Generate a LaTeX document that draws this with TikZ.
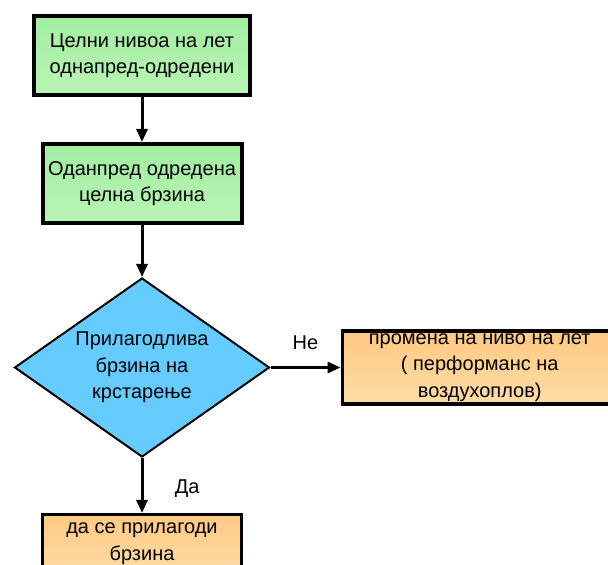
\documentclass[tikz,border=0pt]{standalone}
\usepackage{fontspec}
\setmainfont{Liberation Sans}
\usetikzlibrary{arrows.meta,positioning,shapes.geometric}
\definecolor{fgreen}{HTML}{A2EEA2}
\definecolor{fgreenlt}{HTML}{B9F4B4}
\definecolor{fblue}{HTML}{66CCFF}
\definecolor{forange}{HTML}{FFC982}
\definecolor{forangelt}{HTML}{FFDCA6}

\begin{document}
\begin{tikzpicture}[x=1pt,y=1pt,
  font=\fontsize{20}{26.5}\selectfont,
  box/.style={draw=black,line width=4pt,align=center,inner sep=0pt},
  greenbox/.style={box,top color=fgreen,bottom color=fgreenlt,
    minimum width=216pt,minimum height=79pt},
  orangebox/.style={box,line width=3.5pt,top color=forange,bottom color=forangelt},
  decision/.style={draw=black,line width=2pt,diamond,aspect=1.42,fill=fblue,
    align=center,inner sep=0pt,minimum width=255pt,minimum height=179pt},
  flow/.style={-{Triangle[length=13pt,width=11pt]},line width=3pt}]
\clip (0,0) rectangle (608,565);
\node[greenbox] (goal) at (142,509.5) {Целни нивоа на лет\\однапред-одредени};
\node[greenbox,minimum width=199pt,below=45pt of goal] (speed) {Оданпред одредена\\целна брзина};
\node[decision,below=52pt of speed] (cruise) {Прилагодлива\\брзина на\\крстарење};
\node[orangebox,minimum width=275pt,minimum height=73pt,right=70pt of cruise] (level)
  {промена на ниво на лет\\( перформанс на\\воздухоплов)};
\node[orangebox,minimum width=199pt,minimum height=58pt,below=55pt of cruise] (adjust)
  {да се прилагоди\\брзина};
\draw[flow] (goal) -- (speed);
\draw[flow] (speed) -- (cruise);
\draw[flow] (cruise) -- node[above=13pt] {Не} (level);
\draw[flow] (cruise) -- node[right=28pt,yshift=-3pt] {Да} (adjust);
\end{tikzpicture}
\end{document}
